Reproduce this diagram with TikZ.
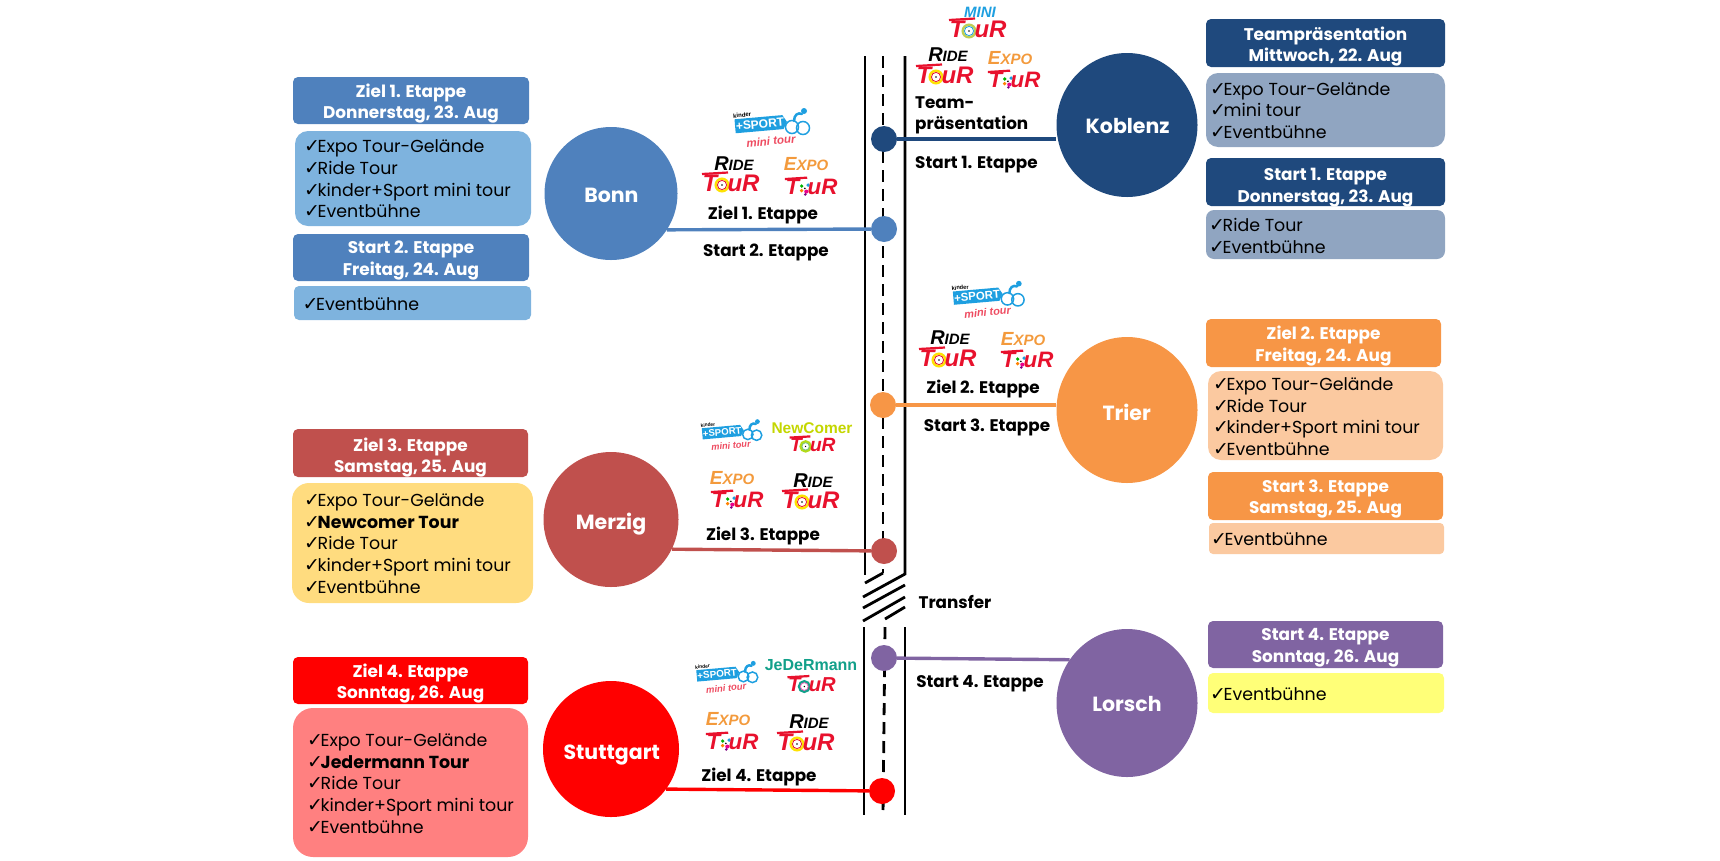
\documentclass[tikz,border=0pt]{standalone}
\usepackage{fontspec}
\usetikzlibrary{fit,shapes.geometric}
\setmainfont{Poppins}
\newfontfamily\lgf{Liberation Sans}
\newfontfamily\ckf{DejaVu Sans}
\definecolor{cbonn}{HTML}{4F81BD}\definecolor{lbonn}{HTML}{7EB3DE}
\definecolor{ckob}{HTML}{1F497D}\definecolor{lkob}{HTML}{90A5C1}
\definecolor{ctri}{HTML}{F79646}\definecolor{ltri}{HTML}{FBC9A0}
\definecolor{cmer}{HTML}{C0504D}\definecolor{lmer}{HTML}{FFDC7F}
\definecolor{csta}{HTML}{FF0000}\definecolor{lsta}{HTML}{FF8080}
\definecolor{clor}{HTML}{8064A2}\definecolor{llor}{HTML}{FFFF78}
\definecolor{skyb}{HTML}{1E9FE0}\definecolor{lgred}{HTML}{E8112D}
\definecolor{expoo}{HTML}{F39A3C}\definecolor{newc}{HTML}{C4D600}\definecolor{jedc}{HTML}{12A08A}
\tikzset{
 hdr/.style={inner sep=0pt,rounded corners=5pt},
 hdrtxt/.style={inner sep=0pt,text=white,align=center,font=\fontsize{16.9}{21.8}\selectfont\bfseries},
 lst/.style={inner sep=0pt,rounded corners=#1},
 lsttxt/.style={inner sep=0pt,anchor=west,align=left,font=\fontsize{17.4}{21.7}\selectfont},
 city/.style={ellipse,inner sep=0pt},
 citytxt/.style={inner sep=0pt,anchor=base,text=white,font=\fontsize{20.5}{24}\selectfont\bfseries},
 tag/.style={inner sep=0pt,yshift=-2pt,font=\fontsize{16.8}{22}\selectfont\bfseries},
 dotn/.style={circle,inner sep=0pt,minimum size=26pt},
 road/.style={line width=2.8pt,black},
 roaddash/.style={line width=2.8pt,black,dash pattern=on 12pt off 7pt},
 link/.style={line width=3.4pt},
 lgtxt/.style={inner sep=0pt,text=lgred,font=\lgf\fontsize{24}{24}\selectfont\bfseries\itshape},
 lgtop/.style={inner sep=0pt,font=\lgf\fontsize{15}{15}\selectfont\itshape},
}
\newcommand\chkm{\makebox[13.5pt][l]{\ckf\fontsize{19}{19}\selectfont ✓}}
\newcommand\hdrb[8][3pt]{\node[hdr,fill=#7,fit={(#3,#4)(#5,#6)}] (#2) {};\node[hdrtxt,yshift=-#1] (#2t) at (#2.center) {#8};}
\newcommand\lstb[7]{\node[lst=#7,fill=#6,fit={(#2,#3)(#4,#5)}] (#1) {};}
\newcommand\lstt[4]{\node[lsttxt] (#1) at (#2,#3) {#4};}
% TOUR wordmark: name,x,y,scale,ring outer,ring inner
\newcommand\tourlg[6]{\begin{scope}[shift={(#2,#3)},scale=#4,transform shape]
 \draw[lgred,line width=2.2pt] (-28,-8) -- (-2,-9.5);
 \node[lgtxt] (#1t) at (-20,1) {T};
 \draw[#5,line width=2.4pt] (-8,3) circle[radius=6.3];
 \draw[#6,line width=0.8pt] (-8,3) circle[radius=4.6];
 \fill[black] (-8,3) circle[radius=0.9];
 \node[lgtxt] (#1u) at (13.5,1) {uR};
 \end{scope}}
\newcommand\expolg[4]{\begin{scope}[shift={(#2,#3)},scale=#4,transform shape]
 \draw[lgred,line width=2.2pt] (-27,-7.5) -- (-3,-9);
 \node[lgtxt] (#1t) at (-19,0.5) {T};
 \fill[green!70!black] (-9,0) circle[radius=2];
 \fill[magenta] (-4,6) circle[radius=2.2];
 \fill[orange] (-9,5) circle[radius=2];
 \fill[skyb] (-2,-1) circle[radius=2];
 \fill[violet] (-5,9) circle[radius=1.6];
 \fill[black] (-5.5,2.5) circle[radius=1];
 \node[lgtxt] (#1u) at (13.5,0.5) {uR};
 \end{scope}}
% name,x,y,scale of the kinder+Sport logo (box centre)
\newcommand\kinderlg[4]{\begin{scope}[shift={(#2,#3)},scale=#4,transform shape]
 \begin{scope}[rotate=5]
 \fill[skyb] (-26,-7) -- (22,-7) -- (26,0) -- (22,7) -- (-26,7) -- cycle;
 \node[inner sep=0pt,text=white,font=\lgf\fontsize{12}{12}\selectfont\bfseries] (#1s) at (-1,0) {+SPORT};
 \node[inner sep=0pt,font=\lgf\fontsize{6}{6}\selectfont\bfseries] (#1k) at (-18,-10.5) {kinder};
 \end{scope}
 \draw[skyb,line width=1.5pt] (31,3) circle[radius=6.5];
 \draw[skyb,line width=1.5pt] (42,4) circle[radius=6.5];
 \draw[skyb,line width=2.5pt,line cap=round] (33,-3) .. controls (33,-9) and (37,-12) .. (41,-10);
 \fill[skyb] (43,-13) circle[radius=3];
 \node[inner sep=0pt,text=lgred!75,rotate=5,font=\lgf\fontsize{11.5}{11.5}\selectfont\bfseries\itshape] (#1m) at (10,17) {mini tour};
 \end{scope}}
% logo top words
\newcommand\ridetop[4]{\node[lgtop,scale=#4] (#1) at (#2,#3-1.5) {\bfseries{\fontsize{20}{20}\selectfont R}IDE};}
\newcommand\expotop[4]{\node[lgtop,text=expoo,scale=#4] (#1) at (#2,#3) {\bfseries{\fontsize{19}{19}\selectfont E}XPO};}
\begin{document}
\begin{tikzpicture}[x=1pt,y=-1pt]
\useasboundingbox (0,0) rectangle (1720,860);
% road
\coordinate (la) at (865,56); \coordinate (lb) at (865,575);
\coordinate (ma) at (883,56); \coordinate (mb) at (883,573);
\coordinate (ra) at (905,56); \coordinate (rb) at (905,574);
\coordinate (lc) at (864,627); \coordinate (ld) at (864,815);
\coordinate (mc) at (885,627); \coordinate (md) at (883,815);
\coordinate (rc) at (905,627); \coordinate (rd) at (905,815);
\coordinate (s1) at (865,583); \coordinate (s2) at (863,597);
\coordinate (s3) at (863,608); \coordinate (s3e) at (905,585);
\coordinate (s4) at (863,621); \coordinate (s4e) at (905,597);
\coordinate (s5) at (885,619); \coordinate (s5e) at (905,607);
\draw[road] (la) -- (lb);
\draw[road] (ra) -- (rb) -- (s2);
\draw[roaddash] (ma) -- (mb);
\draw[road] (mb) -- (s1);
\draw[road] (s3) -- (s3e);
\draw[road] (s4) -- (s4e);
\draw[road] (s5) -- (s5e);
\draw[road] (lc) -- (ld);
\draw[road] (rc) -- (rd);
\draw[roaddash] (mc) -- (md);
% cities
\node[city,fill=cbonn,minimum width=133pt,minimum height=133pt] (bonn) at (611,193.5) {};
\node[city,fill=ckob,minimum width=141pt,minimum height=144pt] (kob) at (1127,125) {};
\node[city,fill=ctri,minimum width=141pt,minimum height=146pt] (trier) at (1127,410) {};
\node[city,fill=cmer,minimum width=135pt,minimum height=135pt] (merzig) at (611,519.5) {};
\node[city,fill=csta,minimum width=136pt,minimum height=136pt] (stutt) at (611,749) {};
\node[city,fill=clor,minimum width=141pt,minimum height=148pt] (lorsch) at (1127,703) {};
\node[citytxt] (bonnt) at (611.4,202.7) {Bonn};
\node[citytxt] (kobt) at (1127.6,133.3) {Koblenz};
\node[citytxt] (triert) at (1126.7,420) {Trier};
\node[citytxt] (merzigt) at (611,529.3) {Merzig};
\node[citytxt] (stuttt) at (611.7,759.3) {Stuttgart};
\node[citytxt] (lorscht) at (1127,711) {Lorsch};
% stops
\node[dotn,fill=ckob] (dk) at (884,139) {};
\node[dotn,fill=cbonn] (db) at (884,229) {};
\node[dotn,fill=ctri] (dt) at (883,405) {};
\node[dotn,fill=cmer] (dm) at (884,551) {};
\node[dotn,fill=clor] (dl) at (884,658) {};
\node[dotn,fill=csta] (ds) at (882,791) {};
\draw[link,ckob] (kob.west |- dk) -- (dk);
\draw[link,cbonn] (bonn.-33) -- (db);
\draw[link,ctri] (trier.west |- dt) -- (dt);
\draw[link,cmer] (merzig.-26) -- (dm);
\draw[link,clor] (lorsch.143) -- (dl);
\draw[link,csta] (stutt.-36) -- (ds);
% Bonn boxes
\hdrb{h1}{293}{77}{529}{124}{cbonn}{Ziel 1. Etappe\\Donnerstag, 23. Aug}
\lstb{l1}{295}{131}{531}{226}{lbonn}{13pt}
\lstt{t1}{304}{179}{\chkm Expo Tour-Gelände\\\chkm Ride Tour\\\chkm kinder+Sport mini tour\\\chkm Eventbühne}
\hdrb{h2}{293}{234}{529}{281}{cbonn}{Start 2. Etappe\\Freitag, 24. Aug}
\lstb{l2}{294}{286}{531}{320}{lbonn}{5pt}
\lstt{t2}{302.5}{304}{\chkm Eventbühne}
% Koblenz boxes
\hdrb[3.5pt]{h3}{1206}{19}{1445}{67}{ckob}{Teampräsentation\\Mittwoch, 22. Aug}
\lstb{l3}{1206}{73}{1445}{147}{lkob}{12pt}
\lstt{t3}{1210}{110.5}{\chkm Expo Tour-Gelände\\\chkm mini tour\\\chkm Eventbühne}
\hdrb[5.5pt]{h4}{1206}{158}{1445}{206}{ckob}{Start 1. Etappe\\Donnerstag, 23. Aug}
\lstb{l4}{1206}{210}{1445}{259}{lkob}{8pt}
\lstt{t4}{1209}{236}{\chkm Ride Tour\\\chkm Eventbühne}
% Trier boxes
\hdrb{h5}{1206}{319}{1441}{367}{ctri}{Ziel 2. Etappe\\Freitag, 24. Aug}
\lstb{l5}{1208}{371}{1443}{460}{ltri}{13pt}
\lstt{t5}{1213}{416.5}{\chkm Expo Tour-Gelände\\\chkm Ride Tour\\\chkm kinder+Sport mini tour\\\chkm Eventbühne}
\hdrb{h6}{1208}{472}{1443}{520}{ctri}{Start 3. Etappe\\Samstag, 25. Aug}
\lstb{l6}{1209}{523}{1444}{554}{ltri}{4pt}
\lstt{t6}{1211}{539}{\chkm Eventbühne}
% Lorsch boxes
\hdrb{h7}{1208}{621}{1443}{668}{clor}{Start 4. Etappe\\Sonntag, 26. Aug}
\lstb{l7}{1208}{673}{1444}{713}{llor}{5pt}
\lstt{t7}{1210}{694}{\chkm Eventbühne}
% Merzig boxes
\hdrb[4.5pt]{h8}{293}{429}{528}{477}{cmer}{Ziel 3. Etappe\\Samstag, 25. Aug}
\lstb{l8}{292}{483}{533}{603}{lmer}{17pt}
\lstt{t8}{304}{543.5}{\chkm Expo Tour-Gelände\\\chkm\textbf{Newcomer Tour}\\\chkm Ride Tour\\\chkm kinder+Sport mini tour\\\chkm Eventbühne}
% Stuttgart boxes
\hdrb{h9}{293}{657}{528}{704}{csta}{Ziel 4. Etappe\\Sonntag, 26. Aug}
\lstb{l9}{293}{708}{528}{857}{lsta}{20pt}
\lstt{t9}{307}{783.5}{\chkm Expo Tour-Gelände\\\chkm\textbf{Jedermann Tour}\\\chkm Ride Tour\\\chkm kinder+Sport mini tour\\\chkm Eventbühne}
% tags
\node[tag] (z1) at (763,213) {Ziel 1. Etappe};
\node[tag] (s2t) at (766,250) {Start 2. Etappe};
\node[tag,anchor=west] (tp1) at (915,101) {Team-};
\node[tag,anchor=west] (tp2) at (915,123) {präsentation};
\node[tag,anchor=west] (s1t) at (915,163) {Start 1. Etappe};
\node[tag] (z2) at (983,387) {Ziel 2. Etappe};
\node[tag] (s3t) at (987,425) {Start 3. Etappe};
\node[tag] (z3) at (763,534) {Ziel 3. Etappe};
\node[tag,yshift=2pt] (tr) at (955,602) {Transfer};
\node[tag,yshift=-1pt] (s4t) at (980,681) {Start 4. Etappe};
\node[tag] (z4) at (759,775) {Ziel 4. Etappe};
% logos at Bonn
\kinderlg{kb}{761}{124}{1}
\ridetop{rb1}{734}{165}{1}\tourlg{rb2}{730}{182}{1}{yellow!85!orange}{lgred}{}
\expotop{eb1}{806}{164}{1}\expolg{eb2}{810}{186}{0.93}
% logos at Koblenz
\node[lgtop,text=skyb,font=\lgf\fontsize{15}{15}\selectfont\bfseries\itshape] (mk1) at (980,12) {MINI};
\tourlg{mk2}{977}{28}{1}{yellow!70!skyb}{skyb}{}
\ridetop{rk1}{948}{56}{1}\tourlg{rk2}{944}{74}{1}{yellow!85!orange}{lgred}{}
\expotop{ek1}{1010}{58}{1}\expolg{ek2}{1013}{79}{0.93}
% logos at Trier
\kinderlg{kt}{978}{296}{0.95}
\ridetop{rt1}{950}{339}{1}\tourlg{rt2}{947}{357}{1}{yellow!85!orange}{lgred}{}
\expotop{et1}{1023}{339}{1}\expolg{et2}{1026}{359}{0.93}
% logos at Merzig
\kinderlg{km}{723}{432}{0.8}
\node[lgtop,text=newc,font=\lgf\fontsize{15.5}{15.5}\selectfont\bfseries] (nm1) at (812,428) {NewComer};
\tourlg{nm2}{812}{444}{0.8}{yellow!70!green}{skyb!60!yellow}{}
\expotop{em1}{732}{478}{1}\expolg{em2}{736}{499}{0.93}
\ridetop{rm1}{813}{482}{1}\tourlg{rm2}{810}{499}{1}{yellow!85!orange}{lgred}{}
% logos at Stuttgart
\kinderlg{ks}{718}{674}{0.82}
\node[lgtop,text=jedc,font=\lgf\fontsize{16}{16}\selectfont\bfseries] (jd1) at (811,665) {JeDeRmann};
\tourlg{jd2}{811}{684}{0.84}{jedc}{magenta!60}{}
\expotop{es1}{728}{719}{1}\expolg{es2}{731}{741}{0.93}
\ridetop{rs1}{809}{723}{1}\tourlg{rs2}{805}{741}{1}{yellow!85!orange}{lgred}{}
\end{tikzpicture}
\end{document}
